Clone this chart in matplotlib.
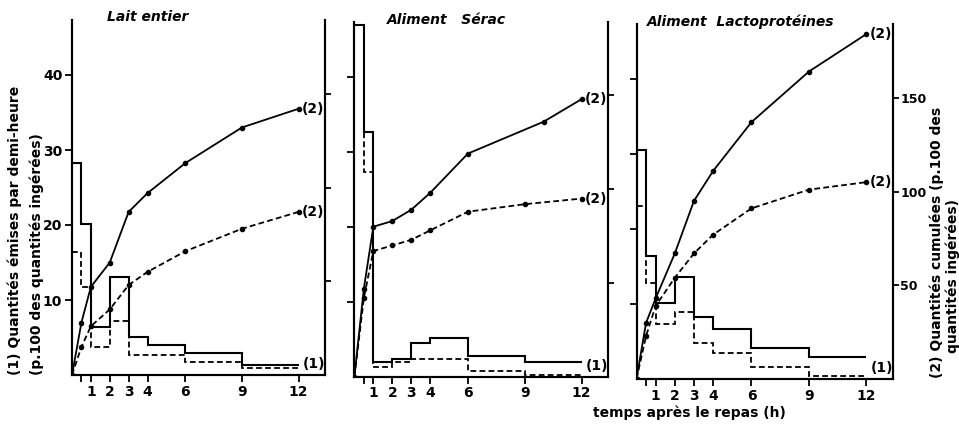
import matplotlib.pyplot as plt
import numpy as np

plt.rcParams['font.family'] = 'DejaVu Sans'
plt.rcParams['font.weight'] = 'bold'

# bornes des intervalles (h) pour les quantites emises par demi-heure
bornes = [0, 0.5, 1, 2, 3, 4, 6, 9, 12]
# temps des points cumules (h)
t_cumul = [0, 0.5, 1, 2, 3, 4, 6, 9, 12]
t_cumul_serac = [0, 0.5, 1, 2, 3, 4, 6, 10, 12]

titres = ['Lait entier', 'Aliment   Sérac', 'Aliment  Lactoprotéines']

# (1) quantites emises (trait plein / tirets)
lait_emis_1 = [28.3, 20.1, 6.4, 13.1, 5.1, 4.0, 3.0, 1.4]
lait_emis_2 = [16.4, 11.7, 3.8, 7.2, 2.7, 2.7, 1.8, 0.9]
serac_emis_1 = [46.9, 32.6, 1.9, 2.4, 4.5, 5.2, 2.7, 1.9]
serac_emis_2 = [46.9, 27.3, 1.25, 2.0, 2.3, 2.3, 0.7, 0.2]
lacto_emis_1 = [30.6, 16.4, 10.2, 13.6, 8.3, 6.7, 4.1, 3.0]
lacto_emis_2 = [23.1, 12.8, 7.3, 8.9, 4.8, 3.5, 1.6, 0.4]

# (2) quantites cumulees
lait_cumul_1 = [0, 28, 47, 60, 87, 97, 113, 132, 142]
lait_cumul_2 = [0, 15, 26, 35, 48, 55, 66, 78, 87]
serac_cumul_1 = [0, 47, 80, 83, 89, 98, 119, 136, 148]
serac_cumul_2 = [0, 42, 67, 70, 73, 78, 88, 92, 95]
lacto_cumul_1 = [0, 30, 43, 67, 95, 111, 137, 164, 184]
lacto_cumul_2 = [0, 23, 39, 54, 67, 77, 91, 101, 105]

x_ticks = [0.5, 1, 2, 3, 4, 6, 9, 12]
x_labels = ['', '1', '2', '3', '4', '6', '9', '12']

panneaux = [
    (lait_emis_1, lait_emis_2, t_cumul, lait_cumul_1, t_cumul, lait_cumul_2),
    (serac_emis_1, serac_emis_2, t_cumul_serac, serac_cumul_1, t_cumul, serac_cumul_2),
    (lacto_emis_1, lacto_emis_2, t_cumul, lacto_cumul_1, t_cumul, lacto_cumul_2),
]

# position des axes en pixels (gauche, droite, bas)
W, H = 959, 428
cadres = [(72, 325, 375), (354.4, 608, 376.7), (636.5, 893.3, 379)]
titre_x = [107, 387, 647]
titre_y = [17, 20, 22]

fig = plt.figure(figsize=(W / 100, H / 100), dpi=100)
tirets = (0, (3.2, 1.8))
ymax = 47.3

for i, (e1, e2, tc1, c1, tc2, c2) in enumerate(panneaux):
    g, d, b = cadres[i]
    hauteur = ymax * 7.5
    ax = fig.add_axes([g / W, (H - b) / H, (d - g) / W, hauteur / H])
    ax2 = ax.twinx()

    ax.stairs(e1, bornes, baseline=None, color='black', lw=1.5)
    ax.stairs(e2, bornes, baseline=None, color='black', lw=1.3, linestyle=tirets)

    ax2.plot(tc1, c1, color='black', lw=1.3, marker='o', ms=3)
    ax2.plot(tc2, c2, color='black', lw=1.3, linestyle=tirets, marker='o', ms=3)

    ax.set_xlim(0, 13.4)
    ax.set_ylim(0, ymax)
    ax2.set_ylim(0, ymax * 4)

    ax.set_xticks(x_ticks)
    ax.set_xticklabels(x_labels, fontsize=10, fontweight='bold')
    ax.set_yticks([10, 20, 30, 40])
    ax2.set_yticks([50, 100, 150])
    if i == 0:
        ax.set_yticklabels(['10', '20', '30', '40'], fontsize=10, fontweight='bold')
    else:
        ax.set_yticklabels([])
    if i == 2:
        ax2.set_yticklabels(['50', '100', '150'], fontsize=9, fontweight='bold')
    else:
        ax2.set_yticklabels([])

    for a in (ax, ax2):
        a.spines['top'].set_visible(False)
        for s in ('left', 'right', 'bottom'):
            a.spines[s].set_linewidth(1.5)
        a.tick_params(length=5, width=1.3, pad=2)
    ax2.tick_params(axis='y', length=4, pad=1)

    # reperes (1) et (2)
    ax2.text(tc1[-1] + 0.15, c1[-1], '(2)', fontsize=10, fontweight='bold', va='center', ha='left')
    ax2.text(tc2[-1] + 0.15, c2[-1], '(2)', fontsize=10, fontweight='bold', va='center', ha='left')
    ax.text(12.2, 1.4, '(1)', fontsize=10, fontweight='bold', va='center', ha='left')

    fig.text(titre_x[i] / W, 1 - titre_y[i] / H, titres[i], fontsize=10,
             fontweight='bold', style='italic', va='center', ha='left')

# titres des axes
fig.text(689 / W, 1 - 413 / H, 'temps après le repas (h)', fontsize=10,
         fontweight='bold', ha='center', va='center')
fig.text(15 / W, 1 - 375 / H, '(1) Quantités émises par demi-heure', rotation=90,
         fontsize=10, fontweight='bold', ha='center', va='bottom')
fig.text(37 / W, 1 - 375 / H, '(p.100 des quantités ingérées)', rotation=90,
         fontsize=10, fontweight='bold', ha='center', va='bottom')
fig.text(937 / W, 1 - 378 / H, '(2) Quantités cumulées (p.100 des', rotation=90,
         fontsize=10, fontweight='bold', ha='center', va='bottom')
fig.text(953 / W, 1 - 353 / H, 'quantités ingérées)', rotation=90,
         fontsize=10, fontweight='bold', ha='center', va='bottom')

fig.savefig('out.png', dpi=100)
